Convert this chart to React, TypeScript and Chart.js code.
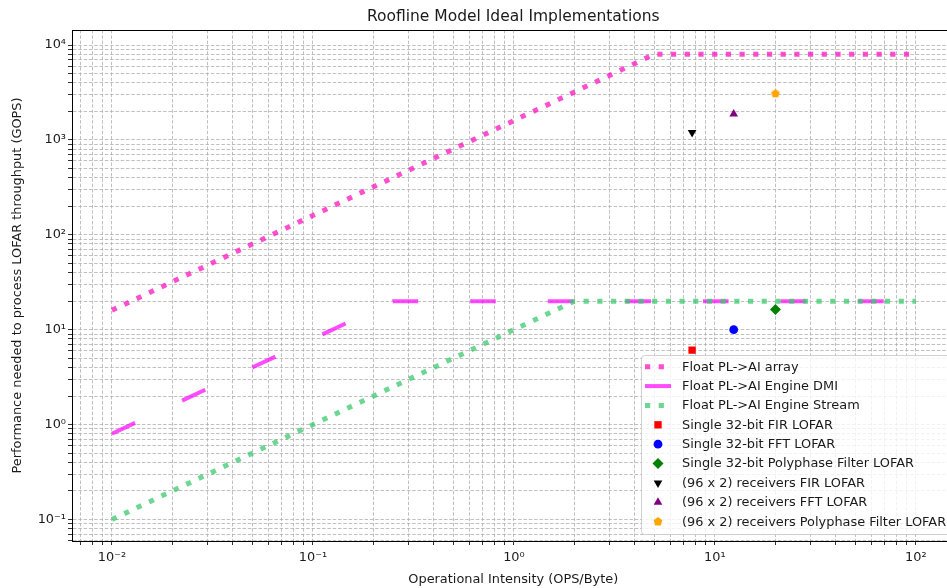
import React, { useEffect, useRef } from 'react';
import { Chart, registerables } from 'chart.js';

Chart.register(...registerables);

const TITLE = 'Roofline Model Ideal Implementations';
const X_LABEL = 'Operational Intensity (OPS/Byte)';
const Y_LABEL = 'Performance needed to process LOFAR throughput (GOPS)';

// Roofline series
const lineLabels = ['Float PL->AI array', 'Float PL->AI Engine DMI', 'Float PL->AI Engine Stream'];
const arrayX = [0.01, 5, 100];
const arrayY = [16, 8000, 8000];
const dmiX = [0.01, 0.25, 100];
const dmiY = [0.8, 20, 20];
const streamX = [0.01, 2, 100];
const streamY = [0.1, 20, 20];

// Implementation points
const pointLabels = [
  'Single 32-bit FIR LOFAR',
  'Single 32-bit FFT LOFAR',
  'Single 32-bit Polyphase Filter LOFAR',
  '(96 x 2) receivers FIR LOFAR',
  '(96 x 2) receivers FFT LOFAR',
  '(96 x 2) receivers Polyphase Filter LOFAR',
];
const pointX = [7.7, 12.4, 20, 7.7, 12.4, 20];
const pointY = [6.1, 10, 16.3, 1200, 1870, 3100];

// Axes
const X_MIN = 0.00633;
const X_MAX = 155.6;
const Y_MIN = 0.0593;
const Y_MAX = 14400;
const xMajorTicks = [0.01, 0.1, 1, 10, 100];
const xTickLabels = ['10⁻²', '10⁻¹', '10⁰', '10¹', '10²'];
const yMajorTicks = [0.1, 1, 10, 100, 1000, 10000];
const yTickLabels = ['10⁻¹', '10⁰', '10¹', '10²', '10³', '10⁴'];

// Styles
const lineStyles = [
  { color: 'rgba(255,20,190,0.75)', width: 5, dash: [5.2, 8.5] },
  { color: 'rgba(255,0,255,0.7)', width: 4, dash: [25.6, 52] },
  { color: 'rgba(60,200,110,0.75)', width: 5, dash: [5.2, 8.5] },
];
const pointStyles = [
  { color: 'red', shape: 'rect', r: 5.2, rot: 0 },
  { color: 'blue', shape: 'circle', r: 4.4, rot: 0 },
  { color: 'green', shape: 'rectRot', r: 5.5, rot: 0 },
  { color: 'black', shape: 'triangle', r: 5, rot: 180 },
  { color: 'purple', shape: 'triangle', r: 5, rot: 0 },
  { color: 'orange', shape: 'pentagon', r: 4.6, rot: 0 },
];

const FONT = '"DejaVu Sans", "Noto Sans", sans-serif';
const TEXT = '#1a1a1a';
const FS = 12.9;

function logTicks(min: number, max: number): number[] {
  const out: number[] = [];
  for (let e = Math.floor(Math.log10(min)); e <= Math.ceil(Math.log10(max)); e++) {
    for (let m = 1; m <= 9; m++) {
      const v = m * Math.pow(10, e);
      if (v >= min * 1.0001 && v <= max * 0.9999) out.push(v);
    }
  }
  return out;
}

function labelFor(v: number, majors: number[], labels: string[]): string {
  const i = majors.findIndex((m) => Math.abs(v / m - 1) < 1e-6);
  return i >= 0 ? labels[i] : '';
}

function pentagonPath(ctx: CanvasRenderingContext2D, cx: number, cy: number, r: number) {
  ctx.beginPath();
  for (let k = 0; k < 5; k++) {
    const a = -Math.PI / 2 + (k * 2 * Math.PI) / 5;
    const px = cx + r * Math.cos(a);
    const py = cy + r * Math.sin(a);
    if (k === 0) ctx.moveTo(px, py);
    else ctx.lineTo(px, py);
  }
  ctx.closePath();
}

function makePentagon(color: string, r: number): HTMLCanvasElement {
  const c = document.createElement('canvas');
  const s = Math.ceil(r * 2 + 2);
  c.width = s;
  c.height = s;
  const ctx = c.getContext('2d')!;
  ctx.fillStyle = color;
  pentagonPath(ctx, s / 2, s / 2 + 0.4, r);
  ctx.fill();
  return c;
}

function drawMarker(ctx: CanvasRenderingContext2D, st: any, x: number, y: number) {
  ctx.save();
  ctx.fillStyle = st.color;
  const r = st.r;
  ctx.beginPath();
  if (st.shape === 'rect') {
    const h = r * Math.SQRT1_2;
    ctx.rect(x - h, y - h, 2 * h, 2 * h);
  } else if (st.shape === 'circle') {
    ctx.arc(x, y, r, 0, Math.PI * 2);
  } else if (st.shape === 'rectRot') {
    ctx.moveTo(x - r, y);
    ctx.lineTo(x, y - r);
    ctx.lineTo(x + r, y);
    ctx.lineTo(x, y + r);
    ctx.closePath();
  } else if (st.shape === 'triangle') {
    const dir = st.rot === 180 ? -1 : 1;
    ctx.moveTo(x, y - dir * r);
    ctx.lineTo(x + r * 0.866, y + dir * r * 0.5);
    ctx.lineTo(x - r * 0.866, y + dir * r * 0.5);
    ctx.closePath();
  } else if (st.shape === 'pentagon') {
    pentagonPath(ctx, x, y, r);
  }
  ctx.fill();
  ctx.restore();
}

const decorPlugin = {
  id: 'decor',
  afterDraw(chart: any) {
    const { ctx, chartArea } = chart;
    const { left, right, top, bottom } = chartArea;
    ctx.save();
    // top and right spines
    ctx.strokeStyle = '#000';
    ctx.lineWidth = 1;
    ctx.beginPath();
    ctx.moveTo(left, top + 0.5);
    ctx.lineTo(right, top + 0.5);
    ctx.moveTo(right - 0.5, top);
    ctx.lineTo(right - 0.5, bottom);
    ctx.stroke();
    // title
    ctx.fillStyle = TEXT;
    ctx.font = `15.5px ${FONT}`;
    ctx.textAlign = 'center';
    ctx.textBaseline = 'middle';
    ctx.fillText(TITLE, (left + right) / 2, 17);

    // legend
    const bx = 641;
    const by = 355;
    const bw = 310;
    const bh = 179;
    ctx.fillStyle = 'rgba(255,255,255,0.8)';
    ctx.strokeStyle = 'rgba(204,204,204,0.9)';
    ctx.lineWidth = 1;
    ctx.beginPath();
    if (ctx.roundRect) ctx.roundRect(bx + 0.5, by + 0.5, bw, bh, 3);
    else ctx.rect(bx + 0.5, by + 0.5, bw, bh);
    ctx.fill();
    ctx.stroke();

    const labels = [...lineLabels, ...pointLabels];
    const rowY0 = 366.7;
    const rowStep = 19.375;
    ctx.font = `${FS}px ${FONT}`;
    ctx.textAlign = 'left';
    ctx.textBaseline = 'middle';
    labels.forEach((lab, i) => {
      const y = rowY0 + i * rowStep;
      if (i < lineStyles.length) {
        const st = lineStyles[i];
        ctx.save();
        ctx.strokeStyle = st.color;
        ctx.lineWidth = st.width;
        ctx.lineCap = 'butt';
        ctx.setLineDash(i === 1 ? [] : st.dash);
        ctx.beginPath();
        ctx.moveTo(645, y);
        ctx.lineTo(671, y);
        ctx.stroke();
        ctx.restore();
      } else {
        drawMarker(ctx, pointStyles[i - lineStyles.length], 658, y);
      }
      ctx.fillStyle = TEXT;
      ctx.fillText(lab, 682, y + 0.5);
    });
    ctx.restore();
  },
};

export default function App() {
  const ref = useRef<HTMLCanvasElement | null>(null);

  useEffect(() => {
    if (!ref.current) return;
    const xs = [arrayX, dmiX, streamX];
    const ys = [arrayY, dmiY, streamY];
    const total = lineLabels.length + pointLabels.length;

    const lineDatasets = lineLabels.map((label, i) => ({
      label,
      data: xs[i].map((x, k) => ({ x, y: ys[i][k] })),
      showLine: true,
      borderColor: lineStyles[i].color,
      backgroundColor: lineStyles[i].color,
      borderWidth: lineStyles[i].width,
      borderDash: lineStyles[i].dash,
      borderCapStyle: 'butt' as const,
      pointRadius: 0,
      tension: 0,
      fill: false,
      order: total - 1 - i,
    }));

    const pointDatasets = pointLabels.map((label, j) => {
      const st = pointStyles[j];
      return {
        label,
        data: [{ x: pointX[j], y: pointY[j] }],
        showLine: false,
        pointStyle: st.shape === 'pentagon' ? makePentagon(st.color, st.r) : st.shape,
        pointRadius: st.r,
        pointRotation: st.rot,
        backgroundColor: st.color,
        borderColor: st.color,
        borderWidth: 0,
        order: total - 1 - (lineLabels.length + j),
      };
    });

    const xTicks = logTicks(X_MIN, X_MAX);
    const yTicks = logTicks(Y_MIN, Y_MAX);

    const chart = new Chart(ref.current, {
      type: 'scatter',
      data: { datasets: [...lineDatasets, ...pointDatasets] as any },
      options: {
        responsive: false,
        animation: false,
        devicePixelRatio: 1,
        events: [],
        layout: { padding: { top: 30, right: 3, left: 0, bottom: 0 } },
        plugins: {
          legend: { display: false },
          title: { display: false },
          tooltip: { enabled: false },
        },
        scales: {
          x: {
            type: 'logarithmic',
            position: 'bottom',
            min: X_MIN,
            max: X_MAX,
            afterFit: (s: any) => {
              s.height = 47;
            },
            afterBuildTicks: (s: any) => {
              s.ticks = xTicks.map((v) => ({ value: v }));
            },
            ticks: {
              autoSkip: false,
              maxRotation: 0,
              minRotation: 0,
              padding: 5,
              color: TEXT,
              font: { family: FONT, size: FS },
              callback: (v: any) => labelFor(Number(v), xMajorTicks, xTickLabels),
            },
            grid: {
              color: '#b0b0b0',
              lineWidth: 0.8,
              tickColor: '#000',
              tickLength: 4,
              tickWidth: 0.8,
            },
            border: { display: true, color: '#000', width: 1, dash: [3.5, 1.8] },
            title: {
              display: true,
              text: X_LABEL,
              color: TEXT,
              font: { family: FONT, size: FS },
              padding: { top: 0, bottom: 1 },
            },
          },
          y: {
            type: 'logarithmic',
            position: 'left',
            min: Y_MIN,
            max: Y_MAX,
            afterFit: (s: any) => {
              s.width = 72;
            },
            afterBuildTicks: (s: any) => {
              s.ticks = yTicks.map((v) => ({ value: v }));
            },
            ticks: {
              autoSkip: false,
              padding: 2,
              color: TEXT,
              font: { family: FONT, size: FS },
              callback: (v: any) => labelFor(Number(v), yMajorTicks, yTickLabels),
            },
            grid: {
              color: '#b0b0b0',
              lineWidth: 0.8,
              tickColor: '#000',
              tickLength: 4,
              tickWidth: 0.8,
            },
            border: { display: true, color: '#000', width: 1, dash: [3.5, 1.8] },
            title: {
              display: true,
              text: Y_LABEL,
              color: TEXT,
              font: { family: FONT, size: FS },
              padding: { top: 10, bottom: 0 },
            },
          },
        },
      } as any,
      plugins: [decorPlugin],
    });
    return () => chart.destroy();
  }, []);

  return (
    <div
      style={{
        position: 'fixed',
        left: 0,
        top: 0,
        width: 947,
        height: 588,
        overflow: 'hidden',
        background: '#fff',
      }}
    >
      <canvas ref={ref} width={960} height={588} style={{ display: 'block' }} />
    </div>
  );
}
